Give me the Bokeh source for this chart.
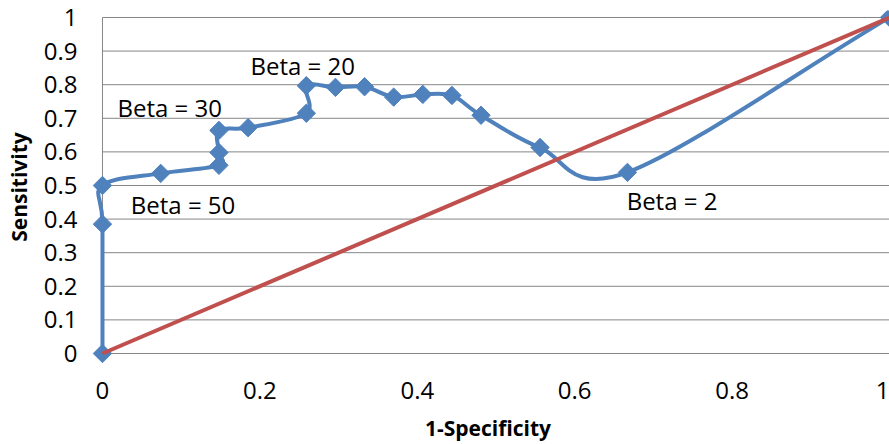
import numpy as np
from bokeh.plotting import figure
from bokeh.models import Range1d, FixedTicker, Label
from bokeh.embed import file_html
from bokeh.resources import INLINE

# ---- data ----
fpr = [0, 0, 0, 0.074, 0.148, 0.148, 0.148, 0.185, 0.259, 0.259, 0.296, 0.333,
       0.370, 0.407, 0.444, 0.481, 0.556, 0.667, 1.0]
tpr = [0, 0.385, 0.5, 0.536, 0.56, 0.598, 0.664, 0.672, 0.715, 0.797, 0.792, 0.794,
       0.763, 0.771, 0.768, 0.709, 0.613, 0.539, 1.0]
chance_x = [0, 1]
chance_y = [0, 1]
x_ticks = [0, 0.2, 0.4, 0.6, 0.8, 1]
x_tick_labels = ["0", "0.2", "0.4", "0.6", "0.8", "1"]
y_ticks = [0, 0.1, 0.2, 0.3, 0.4, 0.5, 0.6, 0.7, 0.8, 0.9, 1]
y_tick_labels = ["0", "0.1", "0.2", "0.3", "0.4", "0.5", "0.6", "0.7", "0.8", "0.9", "1"]
beta_texts = ["Beta = 20", "Beta = 30", "Beta = 50", "Beta = 2"]
beta_x = [0.188, 0.019, 0.036, 0.666]
beta_y = [0.857, 0.732, 0.444, 0.456]
x_title = "1-Specificity"
y_title = "Sensitivity"

BLUE = "#4F81BD"
RED = "#C0504D"
GRID = "#868686"
FONT = "Open Sans"

p = figure(width=889, height=444, output_backend="svg", toolbar_location=None,
           x_range=Range1d(-0.0203, 1.0), y_range=Range1d(-0.0298, 1.0208),
           min_border_left=86, min_border_right=0, min_border_top=10, min_border_bottom=81,
           title=None)
p.outline_line_color = None
p.xgrid.visible = False
p.ygrid.visible = False

# axes
for ax, ticks, labels in ((p.xaxis[0], x_ticks, x_tick_labels), (p.yaxis[0], y_ticks, y_tick_labels)):
    ax.ticker = FixedTicker(ticks=ticks)
    ax.major_label_overrides = {str(t): l for t, l in zip(ticks, labels)}
    ax.major_tick_in = 0
    ax.major_tick_out = 0
    ax.minor_tick_in = 0
    ax.minor_tick_out = 0
    ax.axis_line_color = None
    ax.major_label_text_font = FONT
    ax.major_label_text_font_size = "24px"
    ax.major_label_text_color = "black"
    ax.axis_label_text_font = FONT
    ax.axis_label_text_font_size = "21px"
    ax.axis_label_text_font_style = "bold"
    ax.axis_label_text_color = "black"
p.yaxis[0].major_label_standoff = 9
p.xaxis[0].major_label_standoff = 18
p.xaxis[0].axis_label = x_title
p.yaxis[0].axis_label = y_title
p.xaxis[0].axis_label_standoff = 12
p.yaxis[0].axis_label_standoff = 8

# horizontal gridlines and the vertical axis line
p.segment(x0=[x_ticks[0]] * len(y_ticks), y0=y_ticks,
          x1=[x_ticks[-1]] * len(y_ticks), y1=y_ticks,
          line_color=GRID, line_width=1)
p.segment(x0=[x_ticks[0]], y0=[y_ticks[0]], x1=[x_ticks[0]], y1=[y_ticks[-1]],
          line_color=GRID, line_width=1)

# smoothed ROC curve (cubic bezier through points, Catmull-Rom tangents)
P = np.column_stack([fpr, tpr]).astype(float)
T = np.zeros_like(P)
T[0] = P[1] - P[0]
T[-1] = P[-1] - P[-2]
T[1:-1] = (P[2:] - P[:-2]) / 2.0
c0 = P[:-1] + T[:-1] / 3.0
c1 = P[1:] - T[1:] / 3.0
p.bezier(x0=P[:-1, 0], y0=P[:-1, 1], x1=P[1:, 0], y1=P[1:, 1],
         cx0=c0[:, 0], cy0=c0[:, 1], cx1=c1[:, 0], cy1=c1[:, 1],
         line_color=BLUE, line_width=4, line_cap="round")
p.scatter(fpr, tpr, marker="square", angle=np.pi / 4, size=13,
          fill_color=BLUE, line_color=BLUE)

# chance line
p.line(chance_x, chance_y, line_color=RED, line_width=4)

# annotations
for t, x, y in zip(beta_texts, beta_x, beta_y):
    p.add_layout(Label(x=x, y=y, text=t, text_font=FONT, text_font_size="24px",
                       text_color="black", text_align="left", text_baseline="alphabetic"))

open("out.html", "w").write(file_html(p, INLINE))
